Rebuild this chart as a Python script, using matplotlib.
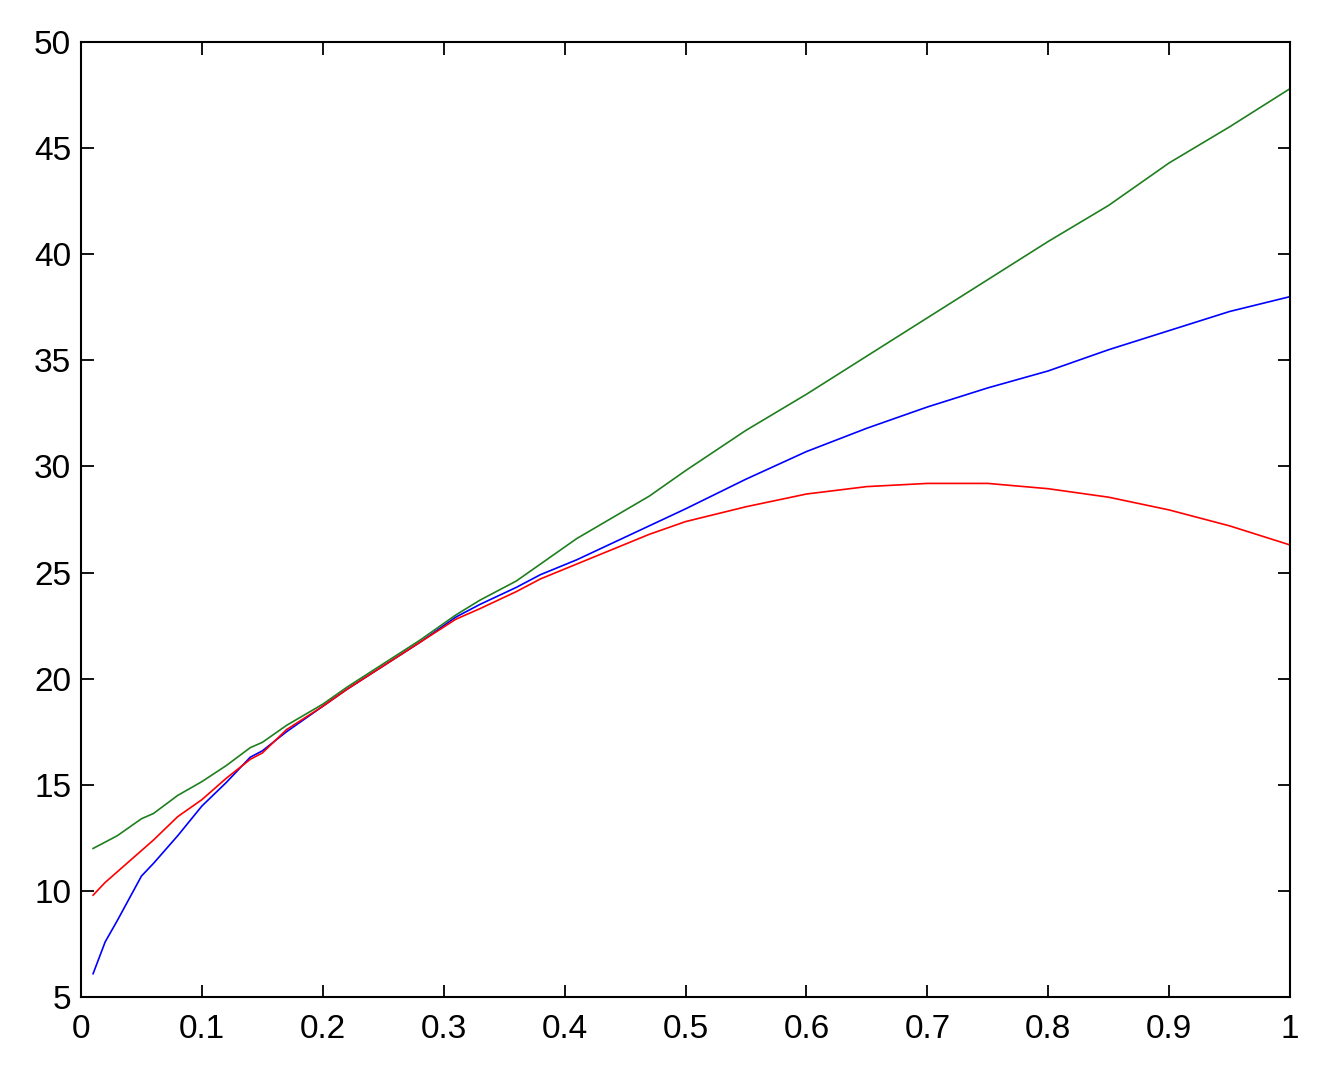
import matplotlib
matplotlib.use("Agg")
import matplotlib.pyplot as plt

plt.rcParams['font.family'] = ['Liberation Sans', 'DejaVu Sans']

x = [0.01, 0.02, 0.03, 0.05, 0.06, 0.08, 0.10, 0.12, 0.14, 0.15, 0.17,
     0.20, 0.22, 0.25, 0.28, 0.31, 0.33, 0.36, 0.38, 0.41, 0.44, 0.47,
     0.50, 0.55, 0.60, 0.65, 0.70, 0.75, 0.80, 0.85, 0.90, 0.95, 1.00]

green = [12.0, 12.3, 12.6, 13.4, 13.65, 14.5, 15.15, 15.9, 16.75, 17.0, 17.8,
         18.8, 19.6, 20.7, 21.8, 23.0, 23.7, 24.6, 25.4, 26.6, 27.6, 28.6,
         29.8, 31.7, 33.4, 35.2, 37.0, 38.8, 40.6, 42.3, 44.3, 46.0, 47.8]

blue = [6.1, 7.6, 8.6, 10.7, 11.3, 12.6, 14.0, 15.1, 16.3, 16.6, 17.5,
        18.7, 19.5, 20.6, 21.7, 22.9, 23.5, 24.3, 24.9, 25.6, 26.4, 27.2,
        28.0, 29.4, 30.7, 31.8, 32.8, 33.7, 34.5, 35.5, 36.4, 37.3, 38.0]

red = [9.8, 10.4, 10.9, 11.9, 12.4, 13.5, 14.3, 15.3, 16.2, 16.5, 17.6,
       18.7, 19.5, 20.6, 21.7, 22.8, 23.3, 24.1, 24.7, 25.4, 26.1, 26.8,
       27.4, 28.1, 28.7, 29.05, 29.2, 29.2, 28.95, 28.55, 27.95, 27.2, 26.3]

xticks = [0, 0.1, 0.2, 0.3, 0.4, 0.5, 0.6, 0.7, 0.8, 0.9, 1]
xlabels = ['0', '0.1', '0.2', '0.3', '0.4', '0.5', '0.6', '0.7', '0.8', '0.9', '1']
yticks = [5, 10, 15, 20, 25, 30, 35, 40, 45, 50]

fig = plt.figure(figsize=(13.28, 10.73), dpi=100)
ax = fig.add_axes([0.061, 0.0708, 0.9104, 0.8901])

ax.plot(x, blue, color='#0000ff', lw=1.2)
ax.plot(x, green, color='#1f7f1f', lw=1.2)
ax.plot(x, red, color='#ff0000', lw=1.2)

ax.set_xlim(0, 1)
ax.set_ylim(5, 50)
ax.set_xticks(xticks)
ax.set_xticklabels(xlabels)
ax.set_yticks(yticks)

ax.tick_params(axis='both', direction='in', length=9, width=1.3,
               top=True, right=True, labelsize=24, colors='black')
ax.tick_params(axis='x', pad=12)
ax.tick_params(axis='y', pad=7)
for s in ax.spines.values():
    s.set_linewidth(1.5)

fig.savefig('out.png', dpi=100)
